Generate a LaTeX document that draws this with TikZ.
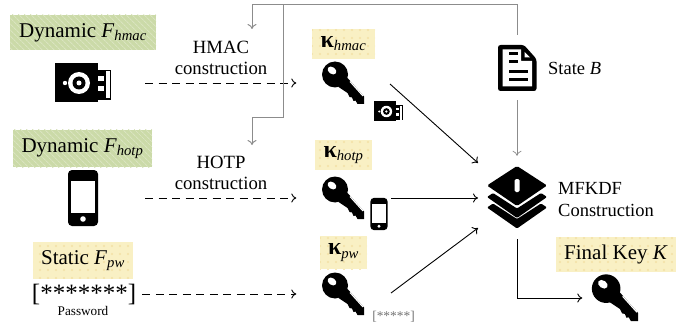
\documentclass[tikz,border=0pt]{standalone}
\usepackage{fontspec}
\setmainfont{Liberation Serif}
\usetikzlibrary{arrows.meta,patterns.meta}
\definecolor{greenbg}{RGB}{203,218,168}
\definecolor{greenln}{RGB}{218,228,192}
\definecolor{yellowbg}{RGB}{249,240,196}
\definecolor{yellowdot}{RGB}{243,224,165}
\newcommand{\fac}[2]{\textit{#1}\textsubscript{\textit{#2}}}
\newcommand{\kap}[1]{{\fontsize{24}{24}\selectfont\textbf{κ}}\textsubscript{\textit{#1}}}
\tikzset{
  >={To[length=5pt,width=9pt]},
  greenbox/.style={preaction={fill=greenbg},pattern={Lines[angle=-45,distance=4pt,line width=1pt]},pattern color=greenln,inner sep=0pt,font=\fontsize{21}{24}\selectfont},
  yellowbox/.style={preaction={fill=yellowbg},pattern={Dots[distance=8pt,radius=1.1pt]},pattern color=yellowdot,inner sep=0pt,font=\fontsize{21}{24}\selectfont},
  midlabel/.style={align=center,font=\fontsize{18.7}{21.5}\selectfont,inner sep=0pt},
  iconbox/.style={minimum width=#1,inner sep=0pt,minimum height=#1},
  dashlink/.style={->,line width=0.9pt,dash pattern=on 8pt off 5.5pt},
  keylink/.style={->,line width=0.9pt},
  greylink/.style={->,line width=1pt,color=black!45},
  keyicon/.pic={
    \fill (-8.5,-8.5) circle (13);
    \fill (-4,-12) -- (4.5,-4.5) -- (20.5,13.5) -- (20.5,21) -- (14,21) -- (12,17.5) -- (10,18) -- (8.5,14.5) -- (6,14) -- (4,10) -- (-5,4) -- cycle;
    \fill[white,rotate around={-35:(-11.5,-12.5)}] (-11.5,-12.5) ellipse (4.8 and 3.4);
    \draw[white,line width=1.1pt] (6.5,-1.5) -- (19.5,13);
  },
  usbicon/.pic={
    \fill (-28,-20) rectangle (15,19);
    \fill (15,-13) rectangle (28,17);
    \fill[white] (23,-11.5) rectangle (26.5,15.5);
    \fill[white] (15,-7) rectangle (20.5,-2);
    \fill[white] (15,3) rectangle (20.5,8);
    \fill[white] (-4,0) circle (11);
    \fill (-4,0) circle (6.5);
    \fill[white] (-4,0) circle (2.5);
    \fill[white] (-18,0) circle (2.2);
  },
  phoneicon/.pic={
    \fill[rounded corners=4] (-15,-28) rectangle (15,28);
    \fill[white] (-11.7,-17) rectangle (11.7,15);
    \fill[white] (0,21) circle (2.8);
  },
  docicon/.pic={
    \fill[rounded corners=2.5] (-19,-23) -- (7,-23) -- (19.5,-9) -- (19.5,23) -- (-19,23) -- cycle;
    \fill[white] (-14.5,-18.5) -- (4,-18.5) -- (4,-7) -- (15,-7) -- (15,18.5) -- (-14.5,18.5) -- cycle;
    \fill[white] (7.5,-16) -- (13,-10.5) -- (7.5,-10.5) -- cycle;
    \foreach\y/\w in {-14/0,-6/0,4/9.5,12/9.5} {
      \fill (-8.5,\y-1.5) rectangle (1+\w,\y+1.5);
    }
  },
  layersicon/.pic={
    \fill[rounded corners=1.5] (0,-32) -- (30,-12.5) -- (0,8) -- (-30,-12.5) -- cycle;
    \fill[white,rounded corners=1.5] (-2.5,-19) rectangle (2.5,-6);
    \foreach\d in {0,10.5} {
      \fill[rounded corners=1] (-24,-5+\d) -- (0,10.5+\d) -- (24,-5+\d) -- (30,-1+\d) -- (0,20+\d) -- (-30,-1+\d) -- cycle;
    }
  },
}
\begin{document}
\begin{tikzpicture}[x=1pt,y=-1pt]
\useasboundingbox (0,0) rectangle (685,326);
%factor labels
\node[greenbox,minimum width=146pt,minimum height=35pt] (fhmac) at (83,32.5) {Dynamic \fac{F}{hmac}};
\node[greenbox,minimum width=139pt,minimum height=37pt] (fhotp) at (82.5,148.5) {Dynamic \fac{F}{hotp}};
\node[yellowbox,minimum width=100pt,minimum height=37pt] (fpw) at (83,260.5) {Static \fac{F}{pw}};
%key labels
\node[yellowbox,minimum width=63pt,minimum height=30pt] (khmac) at (343.5,44) {\kap{hmac}};
\node[yellowbox,minimum width=57pt,minimum height=30pt] (khotp) at (343.5,155) {\kap{hotp}};
\node[yellowbox,minimum width=47pt,minimum height=33pt] (kpw) at (343.5,252.5) {\kap{pw}};
\node[yellowbox,minimum width=120pt,minimum height=35pt] (kfinal) at (616,254.5) {Final Key \textit{K}};
%factors
\node[iconbox=40pt,minimum width=56pt] (usbbig) at (83,83) {};
\pic at (usbbig) {usbicon};
\node[iconbox=30pt,minimum height=56pt] (phonebig) at (83,198) {};
\pic at (phonebig) {phoneicon};
\node[inner sep=0pt,font=\fontsize{25}{25}\selectfont] (stars) at (84,294) {[*******]};
\node[inner sep=0pt,font=\fontsize{13.2}{15}\selectfont] (pwtext) at (83,311) {Password};
%keys
\foreach\n/\y in {keyhmac/83,keyhotp/198,keypw/294} {
  \node[iconbox=42pt] (\n) at (343.5,\y) {};
  \pic at (\n) {keyicon};
}
\node[iconbox=46pt] (keyfinal) at (615.5,298) {};
\pic[scale=1.1] at (keyfinal) {keyicon};
\node[iconbox=20pt,minimum width=29pt] (usbsmall) at (388.5,111.5) {};
\pic[scale=0.52] at (usbsmall) {usbicon};
\node[iconbox=18pt,minimum height=32pt] (phonesmall) at (379,214) {};
\pic[scale=0.58] at (phonesmall) {phoneicon};
\node[inner sep=0pt,text=black!55,font=\fontsize{13.4}{15}\selectfont] (starssmall) at (393.5,317) {[*****]};
%middle column
\node[midlabel] (hmaclabel) at (221,58) {HMAC\\construction};
\node[midlabel] (hotplabel) at (221,173) {HOTP\\construction};
\node[iconbox=46pt,minimum width=39pt] (state) at (517,68) {};
\pic at (state) {docicon};
\node[anchor=west,inner sep=0pt,font=\fontsize{18.5}{22}\selectfont] (statetext) at (548,68) {State \textit{B}};
\node[iconbox=64pt,minimum width=60pt] (mfkdf) at (517,198) {};
\pic at (mfkdf) {layersicon};
\node[anchor=west,align=left,inner sep=0pt,font=\fontsize{18.5}{22}\selectfont] (mfkdftext) at (558,199.5) {MFKDF\\Construction};
%free ends
\coordinate (topright) at (517,5);
\coordinate (topleft) at (252,5);
\coordinate (hmacin) at (252,29);
\coordinate (midtop) at (283,5);
\coordinate (midbot) at (283,118);
\coordinate (midleft) at (252,118);
\coordinate (hotpin) at (252,145);
\coordinate (hmacout) at (390,84);
\coordinate (hmacend) at (478,163);
\coordinate (hotpout) at (391,198);
\coordinate (hotpend) at (478,198);
\coordinate (pwout) at (391,293);
\coordinate (pwend) at (478,228);
%connectors
\draw[dashlink,shorten <=34pt,shorten >=26pt] (usbbig) -- (keyhmac);
\draw[dashlink,shorten <=47pt,shorten >=26pt] (phonebig) -- (keyhotp);
\draw[dashlink,shorten <=6pt,shorten >=26pt] (stars) -- (keypw);
\draw[greylink,shorten <=10pt] (state.north) -- (topright) -- (topleft) -- (hmacin);
\draw[greylink] (midtop) -- (midbot) -- (midleft) -- (hotpin);
\draw[greylink,line width=0.7pt,shorten <=9pt,shorten >=10pt] (state.south) -- (mfkdf.north);
\draw[keylink] (hmacout) -- (hmacend);
\draw[keylink] (hotpout) -- (hotpend);
\draw[keylink] (pwout) -- (pwend);
\draw[keylink,shorten <=9pt,shorten >=10pt] (mfkdf.south) |- (keyfinal.west);
\end{tikzpicture}
\end{document}
